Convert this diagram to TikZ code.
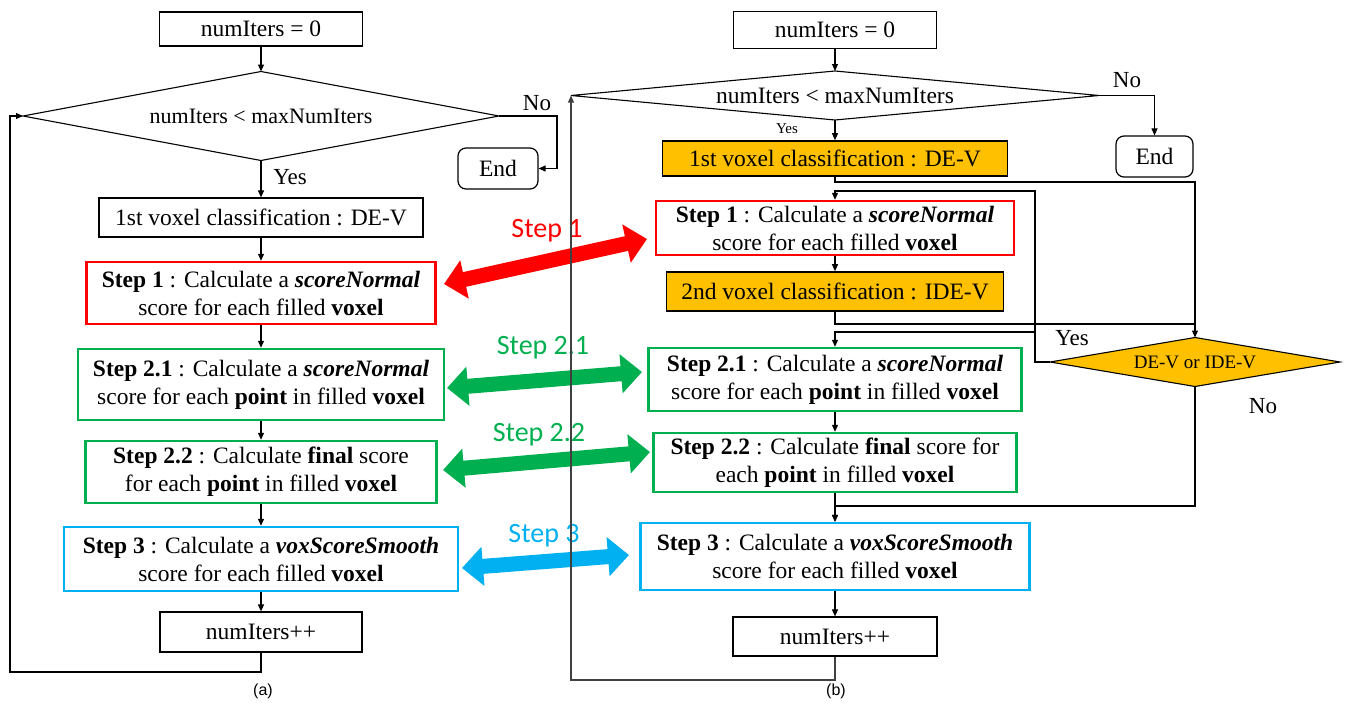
\documentclass[tikz,border=0pt]{standalone}
\usepackage{fontspec}
\setmainfont{Liberation Serif}
\newfontfamily\stepfont{Carlito}
\newfontfamily\capfont{Liberation Sans}
\usetikzlibrary{arrows.meta}
\definecolor{stepred}{HTML}{FF0000}
\definecolor{stepgreen}{HTML}{00B050}
\definecolor{stepblue}{HTML}{00B0F0}
\definecolor{classorange}{HTML}{FFC000}
\begin{document}
\begin{tikzpicture}[x=1pt,y=-1pt,
  every node/.style={inner sep=0pt},
  txt/.style={font=\fontsize{23.5}{28}\selectfont, align=center},
  box/.style={draw=black, line width=1.2pt, fill=white, txt},
  redbox/.style={box, draw=stepred, line width=2.4pt},
  greenbox/.style={box, draw=stepgreen, line width=2.4pt},
  bluebox/.style={box, draw=stepblue, line width=2.4pt},
  classbox/.style={box, fill=classorange, line width=1.6pt},
  endbox/.style={box, rounded corners=8pt},
  decline/.style={draw=black, line width=1.1pt},
  lbl/.style={font=\fontsize{23}{26}\selectfont},
  link/.style={draw=black, line width=1.1pt},
  flow/.style={link, -{Triangle[length=7pt,width=6pt]}},
  bigarrow/.style={line width=15pt, {Triangle[length=21pt,width=38pt]}-{Triangle[length=21pt,width=38pt]}},
  steplabel/.style={font=\stepfont\fontsize{28}{30}\selectfont},
  caption/.style={font=\capfont\fontsize{16}{18}\selectfont}
]
\useasboundingbox (0,0) rectangle (1350,704);

% ---------------- decision shapes (drawn first, text on top) ----------------
\coordinate (aDc) at (261,116);
\coordinate (bDc) at (835,95.5);
\coordinate (bDDc) at (1195,362);
\draw[decline] (aDc) ++(-238,0) -- ++(238,-44.5) -- ++(238,44.5) -- ++(-238,44.5) -- cycle;
\draw[decline] (bDc) ++(-264,0) -- ++(264,-24.5) -- ++(264,24.5) -- ++(-264,24.5) -- cycle;
\draw[decline, fill=classorange] (bDDc) ++(-145,0) -- ++(145,-24.5) -- ++(145,24.5) -- ++(-145,24.5) -- cycle;

% ---------------- (a) ----------------
\node[box, minimum width=203pt, minimum height=34pt] (a0) at (261,29) {numIters = 0};
\node[outer sep=0pt, minimum width=476pt, minimum height=89pt, font=\fontsize{22}{26}\selectfont] (aD) at (aDc) {numIters < maxNumIters};
\node[endbox, minimum width=80pt, minimum height=41pt] (aEnd) at (498,168.5) {End};
\node[box, minimum width=324pt, minimum height=39pt] (a1) at (261,217.5) {1st voxel classification : DE-V};
\node[redbox, minimum width=349pt, minimum height=62pt] (aS1) at (261,293)
  {\textbf{Step 1} : Calculate a \textbf{\textit{scoreNormal}}\\score for each filled \textbf{voxel}};
\node[greenbox, minimum width=366pt, minimum height=71pt] (aS21) at (261,384.5)
  {\textbf{Step 2.1} : Calculate a \textbf{\textit{scoreNormal}}\\score for each \textbf{point} in filled \textbf{voxel}};
\node[greenbox, minimum width=351pt, minimum height=62pt] (aS22) at (261,472)
  {\textbf{Step 2.2} : Calculate \textbf{final} score\\for each \textbf{point} in filled \textbf{voxel}};
\node[bluebox, minimum width=394pt, minimum height=64pt] (aS3) at (261,559)
  {\textbf{Step 3} : Calculate a \textbf{\textit{voxScoreSmooth}}\\score for each filled \textbf{voxel}};
\node[box, minimum width=202pt, minimum height=40pt] (aInc) at (261,632) {numIters++};

\node[lbl] (aYes) at (290,177) {Yes};
\node[lbl] (aNo) at (537,103) {No};
\node[caption] (capA) at (263,691) {(a)};

\coordinate (aNoTurn) at (557,116);
\coordinate (aLoopB) at (10,672);
\draw[flow] (a0.south) -- (aD.north);
\draw[flow] (aD.south) -- (a1.north);
\draw[flow] (aD.east) -- (aNoTurn) |- (aEnd.east);
\draw[flow] (a1.south) -- (aS1.north);
\draw[flow] (aS1.south) -- (aS21.north);
\draw[flow] (aS21.south) -- (aS22.north);
\draw[flow] (aS22.south) -- (aS3.north);
\draw[flow] (aS3.south) -- (aInc.north);
\draw[flow] (aInc.south) |- (aLoopB) |- (aD.west);

% ---------------- (b) ----------------
\node[box, minimum width=203pt, minimum height=37pt] (b0) at (835,30) {numIters = 0};
\node[outer sep=0pt, minimum width=528pt, minimum height=49pt, font=\fontsize{23.5}{26}\selectfont] (bD) at (bDc) {numIters < maxNumIters};
\node[endbox, minimum width=77pt, minimum height=41pt] (bEnd) at (1154.5,156.5) {End};
\node[classbox, minimum width=345pt, minimum height=35pt] (b1) at (835,158.5) {1st voxel classification : DE-V};
\node[redbox, minimum width=358pt, minimum height=54pt] (bS1) at (835,228)
  {\textbf{Step 1} : Calculate a \textbf{\textit{scoreNormal}}\\score for each filled \textbf{voxel}};
\node[classbox, minimum width=337pt, minimum height=39pt] (b2) at (835,291.5) {2nd voxel classification : IDE-V};
\node[greenbox, minimum width=373pt, minimum height=63pt] (bS21) at (835,379.5)
  {\textbf{Step 2.1} : Calculate a \textbf{\textit{scoreNormal}}\\score for each \textbf{point} in filled \textbf{voxel}};
\node[greenbox, minimum width=363pt, minimum height=59pt] (bS22) at (835,462.5)
  {\textbf{Step 2.2} : Calculate \textbf{final} score for\\each \textbf{point} in filled \textbf{voxel}};
\node[bluebox, minimum width=389pt, minimum height=67pt] (bS3) at (835,556.5)
  {\textbf{Step 3} : Calculate a \textbf{\textit{voxScoreSmooth}}\\score for each filled \textbf{voxel}};
\node[box, minimum width=204pt, minimum height=39pt] (bInc) at (835,636.5) {numIters++};
\node[outer sep=0pt, minimum width=290pt, minimum height=49pt, font=\fontsize{19}{22}\selectfont] (bDD) at (bDDc) {DE-V or IDE-V};

\node[font=\fontsize{15}{17}\selectfont] (bYes) at (787,129) {Yes};
\node[lbl] (bNo) at (1127,80) {No};
\node[lbl] (bYes2) at (1072,338) {Yes};
\node[lbl] (bNo2) at (1263,406) {No};
\node[caption] (capB) at (836,691) {(b)};

\coordinate (bJ1) at (1195,182);
\coordinate (bJ2) at (1195,324);
\coordinate (bY) at (1035,362);
\coordinate (bYtop) at (1035,191);
\coordinate (bY2) at (1035,332);
\coordinate (bN) at (1195,506);
\coordinate (bLoopB) at (835,680);

\draw[flow] (b0.south) -- (bD.north);
\draw[flow] (bD.south) -- (b1.north);
\draw[flow] (bD.east) -| (bEnd.north);
\draw[flow] (b1.south) |- (bJ1) -- (bDD.north);
\draw[link] (b2.south) |- (bJ2);
\draw[flow] (bDD.west) -- (bY) -- (bYtop) -| (bS1.north);
\draw[flow] (bY2) -| (bS21.north);
\draw[flow] (bS1.south) -- (b2.north);
\draw[flow] (bS21.south) -- (bS22.north);
\draw[flow] (bS22.south) -- (bS3.north);
\draw[flow] (bDD.south) -- (bN) -| (bS3.north);
\draw[flow] (bS3.south) -- (bInc.north);

% ---------------- correspondence arrows ----------------
\coordinate (s1L) at (444,284);  \coordinate (s1R) at (647,239);
\coordinate (s21L) at (447,388); \coordinate (s21R) at (642,372);
\coordinate (s22L) at (443,470); \coordinate (s22R) at (650,452);
\coordinate (s3L) at (462,568);  \coordinate (s3R) at (629,555);
\draw[bigarrow, stepred] (s1L) -- (s1R);
\draw[bigarrow, stepgreen] (s21L) -- (s21R);
\draw[bigarrow, stepgreen] (s22L) -- (s22R);
\draw[bigarrow, stepblue] (s3L) -- (s3R);
\node[steplabel, text=stepred] (t1) at (547,231) {Step 1};
\node[steplabel, text=stepgreen] (t21) at (543,348) {Step 2.1};
\node[steplabel, text=stepgreen] (t22) at (539,435) {Step 2.2};
\node[steplabel, text=stepblue] (t3) at (544,536) {Step 3};

% loop-back line of (b), drawn over the arrows
\draw[flow, draw=black!75] (bInc.south) -- (bLoopB) -| (bD.west);
\end{tikzpicture}
\end{document}
